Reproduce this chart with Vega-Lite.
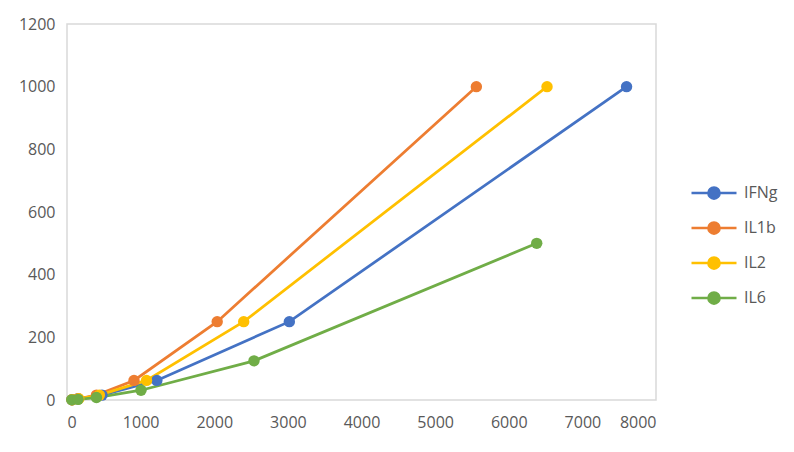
{
  "$schema": "https://vega.github.io/schema/vega-lite/v6.json",
  "width": 589,
  "height": 376,
  "autosize": {"type": "none"},
  "padding": {"left": 67, "top": 24, "right": 138, "bottom": 52},
  "background": "white",
  "config": {
    "view": {"stroke": "#d9d9d9", "strokeWidth": 1.5},
    "font": "Open Sans",
    "axis": {"grid": false, "ticks": false, "domain": false, "labelColor": "#595959", "labelFontSize": 16, "labelFont": "Open Sans", "title": null, "format": "d"},
    "legend": {"labelColor": "#595959", "labelFontSize": 16, "labelFont": "Open Sans"}
  },
  "data": {"values": [
    {"cyto": "IFNg", "x": 68, "y": 1},
    {"cyto": "IFNg", "x": 150, "y": 3.9},
    {"cyto": "IFNg", "x": 475, "y": 15.6},
    {"cyto": "IFNg", "x": 1220, "y": 62.5},
    {"cyto": "IFNg", "x": 3020, "y": 250},
    {"cyto": "IFNg", "x": 7600, "y": 1000},
    {"cyto": "IL1b", "x": 68, "y": 1},
    {"cyto": "IL1b", "x": 150, "y": 3.9},
    {"cyto": "IL1b", "x": 400, "y": 15.6},
    {"cyto": "IL1b", "x": 910, "y": 62.5},
    {"cyto": "IL1b", "x": 2040, "y": 250},
    {"cyto": "IL1b", "x": 5560, "y": 1000},
    {"cyto": "IL2", "x": 70, "y": 1},
    {"cyto": "IL2", "x": 160, "y": 3.9},
    {"cyto": "IL2", "x": 440, "y": 15.6},
    {"cyto": "IL2", "x": 1080, "y": 62.5},
    {"cyto": "IL2", "x": 2400, "y": 250},
    {"cyto": "IL2", "x": 6520, "y": 1000},
    {"cyto": "IL6", "x": 65, "y": 0.5},
    {"cyto": "IL6", "x": 150, "y": 2},
    {"cyto": "IL6", "x": 400, "y": 7.8},
    {"cyto": "IL6", "x": 1005, "y": 31.25},
    {"cyto": "IL6", "x": 2540, "y": 125},
    {"cyto": "IL6", "x": 6380, "y": 500}
  ]},
  "encoding": {
    "x": {"field": "x", "type": "quantitative", "scale": {"domain": [0, 8000], "nice": false}, "axis": {"values": [0,1000,2000,3000,4000,5000,6000,7000,8000], "labelPadding": 14, "format": "d"}},
    "y": {"field": "y", "type": "quantitative", "scale": {"domain": [0, 1200], "nice": false}, "axis": {"values": [0,200,400,600,800,1000,1200], "labelPadding": 12, "format": "d"}},
    "color": {"field": "cyto", "type": "nominal", "scale": {"domain": ["IFNg","IL1b","IL2","IL6"], "range": ["#4472C4","#ED7D31","#FFC000","#70AD47"]},
      "legend": {"title": null, "orient": "none", "legendX": 623, "legendY": 145,
        "symbolType": "M-1,0L-0.25,0A0.25,0.25 0 1,1 0.25,0A0.25,0.25 0 1,1 -0.25,0ZM0.25,0L1,0",
        "symbolSize": 2025, "symbolStrokeWidth": 2.5, "rowPadding": -17, "labelOffset": 6,
        "encode": {"symbols": {"update": {"fill": {"scale": "color", "field": "value"}, "stroke": {"scale": "color", "field": "value"}, "fillOpacity": {"value": 1}}}}}
    }
  },
  "layer": [
    {"mark": {"type": "line", "strokeWidth": 2.75}},
    {"mark": {"type": "point", "filled": true, "size": 130, "opacity": 1}}
  ]
}
